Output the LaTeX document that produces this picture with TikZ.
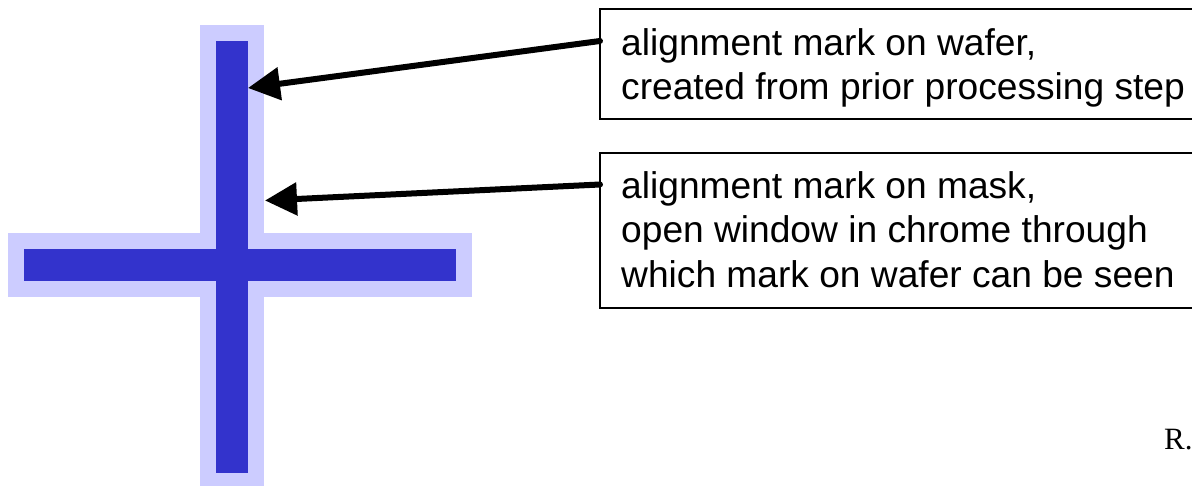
\documentclass[tikz,border=0pt]{standalone}
\usepackage{fontspec}
\setmainfont{Liberation Sans}
\newfontfamily\serifface{Liberation Serif}
\usetikzlibrary{arrows.meta}
\definecolor{palemark}{RGB}{204,204,255}
\definecolor{darkmark}{RGB}{51,51,204}
\tikzset{
  x=1pt,y=-1pt,
  callout/.style={draw=black,line width=2pt,fill=white,inner sep=0pt,outer sep=0pt,anchor=north west},
  calltext/.style={anchor=base west,inner sep=0pt,font=\fontsize{37.15}{37.15}\selectfont},
  pointer/.style={line width=6pt,line cap=round,-{Triangle[length=32pt,width=32pt]}},
}
\begin{document}
\begin{tikzpicture}
\useasboundingbox (0,0) rectangle (1192,486);
\fill[palemark] (200,25) rectangle (264,486);
\fill[palemark] (8,233) rectangle (472,297);
\fill[darkmark] (216,41) rectangle (248,473);
\fill[darkmark] (24,249) rectangle (456,281);
\node[callout,minimum width=640pt,minimum height=110pt] (boxa) at (599.5,9.5) {};
\node[callout,minimum width=640pt,minimum height=155pt] (boxb) at (599.5,153.5) {};
\coordinate (tailA) at (600,41);
\coordinate (tipA) at (248,88);
\coordinate (tailB) at (600,184.5);
\coordinate (tipB) at (265,200.5);
\draw[pointer] (tailA) -- (tipA);
\draw[pointer] (tailB) -- (tipB);
\node[calltext] (a1) at (621,56) {alignment mark on wafer,};
\node[calltext] (a2) at (621,100) {created from prior processing step};
\node[calltext] (b1) at (621,199) {alignment mark on mask,};
\node[calltext] (b2) at (621,243) {open window in chrome through};
\node[calltext] (b3) at (621,288) {which mark on wafer can be seen};
\node[anchor=base west,inner sep=0pt,font=\serifface\fontsize{31}{31}\selectfont] (rlabel) at (1164,449) {R.};
\end{tikzpicture}
\end{document}
